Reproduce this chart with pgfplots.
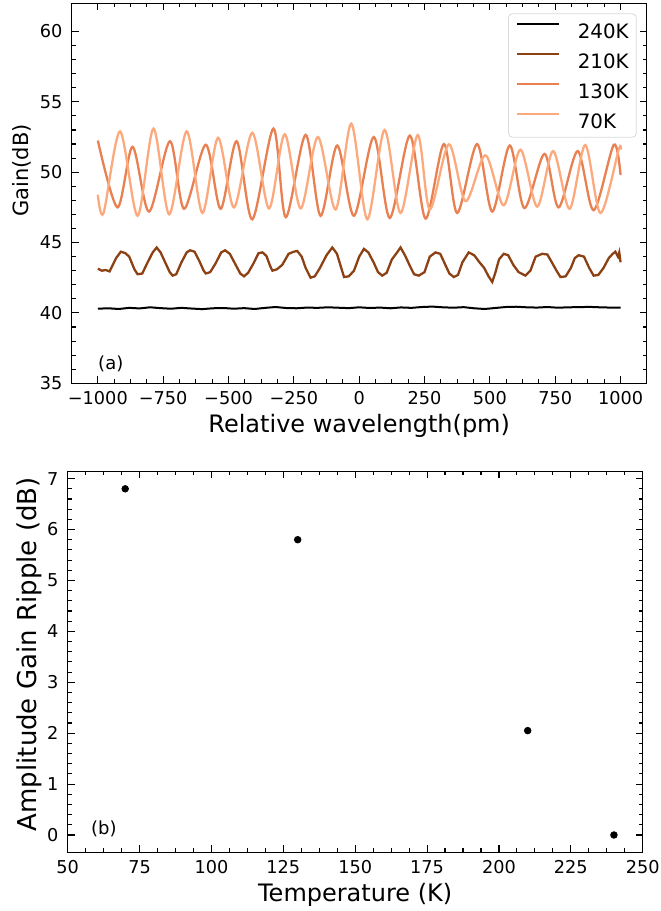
\documentclass[border=0pt]{standalone}
\usepackage{fontspec}
\setmainfont{DejaVu Sans}
\usepackage{pgfplots}
\pgfplotsset{compat=1.18}

\definecolor{c210}{RGB}{140,65,20}
\definecolor{c130}{RGB}{232,128,82}
\definecolor{c70}{RGB}{252,170,125}

\newcommand{\tickfont}{\fontsize{8.85}{10}\selectfont}
\newcommand{\labfont}{\fontsize{12}{14}\selectfont}

\pgfplotsset{
  panel/.style={
    scale only axis,
    /pgf/number format/assume math mode=true,
    axis line style={line width=0.65pt, black},
    tick align=inside,
    xtick pos=both, ytick pos=both,
    xticklabel pos=lower, yticklabel pos=left,
    major tick length=3.5pt, minor tick length=2pt,
    every tick/.style={black, line width=0.55pt},
    ticklabel style={font=\tickfont},
    xticklabel style={inner sep=0pt, anchor=north, yshift=-3.75pt},
    yticklabel style={inner sep=0pt, anchor=east, xshift=-4.5pt},
    xlabel style={font=\labfont, inner sep=0pt, at={(axis description cs:0.5,0)}, anchor=north, yshift=-15.5pt},
    ylabel style={inner sep=0pt, anchor=center},
  }
}

\begin{document}
\begin{tikzpicture}
\useasboundingbox (0,0) rectangle (330pt,455.5pt);

% ---------- (a) gain spectra ----------
\begin{axis}[panel,
  at={(35.85pt,263.85pt)}, anchor=south west,
  width=287.5pt, height=190pt,
  xmin=-1100, xmax=1100, ymin=35, ymax=62,
  xtick={-1000,-750,-500,-250,0,250,500,750,1000},
  xticklabels={−1000,−750,−500,−250,0,250,500,750,1000},
  ytick={35,40,45,50,55,60},
  minor x tick num=3, minor y tick num=4,
  xlabel={Relative wavelength(pm)},
  ylabel={\fontsize{10.5}{12}\selectfont Gain(dB)},
  ylabel style={at={(axis description cs:0,0.56)}, yshift=25pt},
  legend cell align=left,
  legend image code/.code={\draw[#1] (0pt,3.6pt) -- (20.85pt,3.6pt);},
  legend style={at={(1,1)}, anchor=north east, xshift=-5pt, yshift=-5pt,
    draw=black!15, rounded corners=2pt, fill=white,
    font=\fontsize{9.9}{11}\selectfont,
    inner xsep=3.85pt, inner ysep=4.4pt,
    nodes={inner sep=0pt, text height=7.3pt, text depth=0pt},
    row sep=7.25pt,
    /tikz/every odd column/.append style={column sep=8.85pt}},
]
\addplot[black, line width=1pt] coordinates {
(-1000,40.30) (-960,40.33) (-920,40.28) (-880,40.36) (-840,40.32) (-800,40.40)
(-760,40.34) (-720,40.30) (-680,40.36) (-640,40.31) (-600,40.27) (-560,40.33)
(-520,40.35) (-480,40.30) (-440,40.34) (-400,40.28) (-360,40.36) (-320,40.42)
(-280,40.35) (-240,40.33) (-200,40.38) (-160,40.36) (-120,40.40) (-80,40.37)
(-40,40.34) (0,40.40) (40,40.35) (80,40.38) (120,40.33) (160,40.39) (200,40.36)
(240,40.42) (280,40.45) (320,40.40) (360,40.37) (400,40.41) (440,40.33)
(480,40.28) (520,40.35) (560,40.42) (600,40.44) (640,40.40) (680,40.38)
(720,40.42) (760,40.37) (800,40.40) (840,40.41) (880,40.43) (920,40.40)
(960,40.38) (1000,40.37)
};
\addlegendentry{240K}

\addplot[c210, line width=1.15pt] coordinates {
(-1000,43.15) (-985,43.00) (-970,43.05) (-955,42.95) (-930,43.90) (-912,44.35)
(-895,44.25) (-880,44.00) (-860,43.10) (-848,42.75) (-830,42.80) (-812,43.50)
(-790,44.30) (-775,44.65) (-760,44.30) (-740,43.50) (-725,42.90) (-714,42.65)
(-700,42.75) (-680,43.60) (-660,44.30) (-647,44.45) (-630,44.35) (-612,43.70)
(-595,43.00) (-587,42.80) (-570,42.90) (-550,43.50) (-528,44.30) (-513,44.45)
(-495,44.20) (-475,43.50) (-455,42.80) (-441,42.60) (-425,42.85) (-405,43.50)
(-385,44.25) (-370,44.30) (-355,44.05) (-340,43.30) (-332,43.00) (-315,43.10)
(-295,43.40) (-270,44.20) (-250,44.35) (-237,44.40) (-220,44.00) (-205,43.20)
(-186,42.50) (-170,42.60) (-150,43.20) (-125,44.10) (-103,44.65) (-85,44.20)
(-72,43.40) (-58,42.55) (-40,42.60) (-20,43.00) (0,44.00) (18,44.55) (35,44.30)
(55,43.60) (72,42.90) (88,42.65) (105,42.85) (125,43.80) (145,44.30) (158,44.65)
(175,44.10) (195,43.30) (210,42.75) (228,42.65) (250,42.90) (270,44.00)
(292,44.30) (310,44.20) (330,43.40) (345,42.80) (362,42.55) (378,42.70)
(395,43.60) (419,44.30) (440,44.10) (460,43.60) (478,43.20) (495,42.60)
(509,42.20) (520,42.80) (535,43.80) (553,44.20) (570,44.10) (590,43.40)
(610,42.90) (636,42.65) (655,43.00) (675,44.00) (700,44.20) (720,44.15)
(740,43.50) (755,43.00) (770,42.55) (790,42.60) (810,43.20) (825,43.90)
(840,44.10) (860,44.00) (880,43.20) (897,42.65) (915,42.70) (935,43.20)
(955,43.90) (970,44.20) (980,44.35) (990,44.00) (995,44.30) (1000,43.60)
};
\addlegendentry{210K}

\addplot[c130, line width=1.15pt, smooth, tension=0.5] coordinates {
(-1000,52.25) (-925,47.50) (-867,51.80) (-804,47.20) (-724,52.20) (-670,47.40)
(-587,51.95) (-530,47.40) (-469,52.20) (-409,46.65) (-328,53.10) (-281,46.80)
(-205,52.65) (-148,46.90) (-84,51.90) (-20,46.90) (56,52.50) (117,46.75)
(194,52.60) (254,46.70) (324,52.00) (375,47.10) (451,52.00) (509,47.20)
(576,51.90) (632,47.45) (709,51.30) (763,47.50) (836,51.50) (897,47.30)
(974,51.95) (1000,49.80)
};
\addlegendentry{130K}

\addplot[c70, line width=1.15pt, smooth, tension=0.5] coordinates {
(-1000,48.40) (-978,47.10) (-915,52.90) (-848,46.90) (-787,53.10) (-727,47.00)
(-660,52.90) (-600,47.10) (-540,52.45) (-479,47.50) (-409,52.80) (-345,47.42)
(-285,52.70) (-224,47.42) (-158,52.50) (-90,47.35) (-30,53.45) (31,46.65)
(97,53.00) (158,47.10) (224,52.64) (270,47.35) (343,51.98) (407,47.94)
(483,51.20) (553,47.65) (617,51.60) (681,47.55) (742,51.50) (805,47.40)
(865,51.93) (923,47.10) (993,51.60) (1000,51.60)
};
\addlegendentry{70K}

\node[anchor=base west, inner sep=0pt, font=\fontsize{9}{10}\selectfont] at (axis cs:-1000,36) {(a)};
\end{axis}

% ---------- (b) ripple amplitude ----------
\begin{axis}[panel,
  at={(33.85pt,29.35pt)}, anchor=south west,
  width=287.5pt, height=190.4pt,
  xmin=50, xmax=250, ymin=-0.34, ymax=7.14,
  xtick={50,75,100,125,150,175,200,225,250},
  ytick={0,1,2,3,4,5,6,7},
  minor x tick num=3, minor y tick num=4,
  xlabel={Temperature (K)},
  ylabel={\fontsize{13}{15}\selectfont Amplitude Gain Ripple (dB)},
  ylabel style={at={(axis description cs:0,0.52)}, yshift=19.35pt},
]
\addplot[only marks, mark=*, mark size=1.65pt, black] coordinates {
(70,6.80) (130,5.80) (210,2.05) (240,0.00)
};
\node[anchor=base west, inner sep=0pt, font=\fontsize{9}{10}\selectfont] at (axis cs:58,0) {(b)};
\end{axis}
\end{tikzpicture}
\end{document}
